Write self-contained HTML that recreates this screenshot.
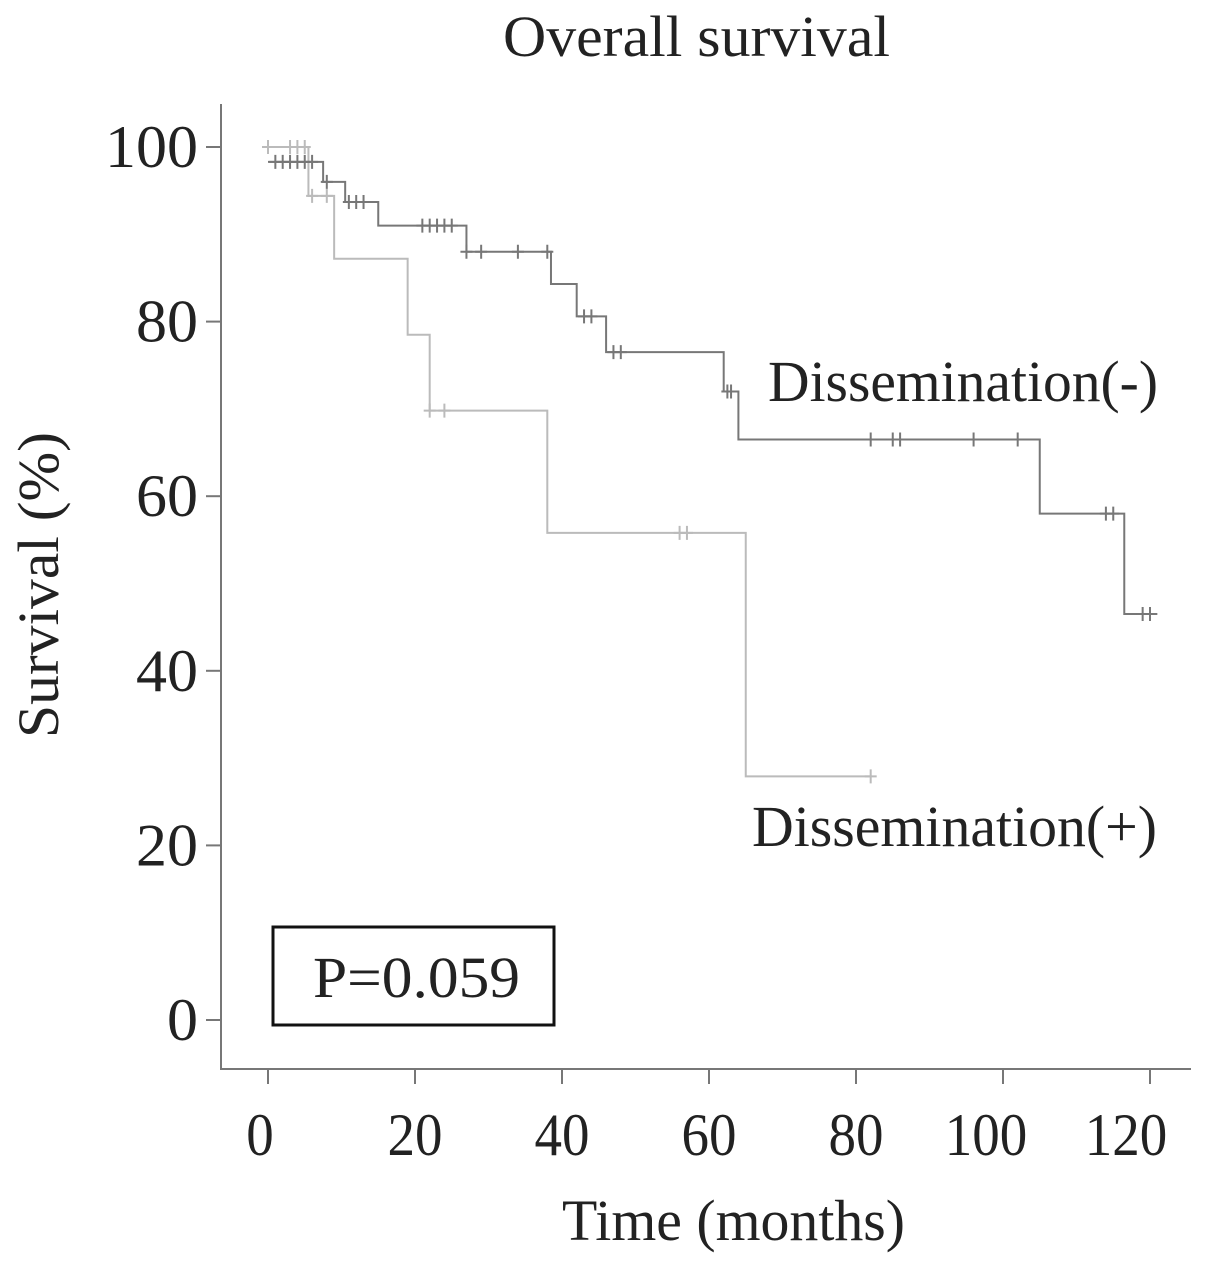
<!DOCTYPE html>
<html><head><meta charset="utf-8"><style>
html,body{margin:0;padding:0;background:#fff}
svg{display:block}
text{font-family:"Liberation Serif",serif;fill:#222}
</style></head><body>
<svg id="chart" width="1205" height="1269">
<text x="503" y="56" font-size="58" textLength="387" lengthAdjust="spacingAndGlyphs">Overall survival</text>
<text x="562" y="1240" font-size="58" textLength="343" lengthAdjust="spacingAndGlyphs">Time (months)</text>
<text transform="translate(58,738) rotate(-90)" font-size="58" textLength="306" lengthAdjust="spacingAndGlyphs">Survival (%)</text>
<line x1="221" y1="104" x2="221" y2="1070" stroke="#777" stroke-width="2"/>
<line x1="220" y1="1069" x2="1191" y2="1069" stroke="#777" stroke-width="2"/>
<g id="ticks"></g>
<g id="series"></g>
<text x="768" y="401" font-size="58" textLength="390" lengthAdjust="spacingAndGlyphs">Dissemination(-)</text>
<text x="752" y="846" font-size="58" textLength="405" lengthAdjust="spacingAndGlyphs">Dissemination(+)</text>
<rect x="273" y="927" width="281" height="98" fill="none" stroke="#111" stroke-width="3"/>
<text x="313" y="997" font-size="58" textLength="207" lengthAdjust="spacingAndGlyphs">P=0.059</text>
</svg>
<script>
const xTicks=[0,20,40,60,80,100,120];
const yTicks=[0,20,40,60,80,100];
const negTimes=[0,7.5,10.5,15,27,38.5,42,46,62,64,105,116.5];
const negSurv=[98.3,96,93.7,91,88,84.3,80.6,76.5,72,66.5,58,46.5];
const negEnd=121;
const negCensor=[1,2,3,4,5,6,8,11,12,13,21,22,23,24,25,27,29,34,38,43,44,47,48,62.5,63,82,85,86,96,102,114,115,119,120];
const posTimes=[0,5.5,9,19,22,38,65];
const posSurv=[100,94.4,87.2,78.5,69.8,55.8,27.9];
const posEnd=82;
const posCensor=[0,3,4,5,6,8,22,24,56,57,82];
const NS='http://www.w3.org/2000/svg';
const X=t=>268+t*7.35;
const Y=v=>1020-v*8.73;
const xLabelShift=[-8,0,0,0,0,-17,-24];
function mk(tag,attrs,parent){const e=document.createElementNS(NS,tag);for(const k in attrs)e.setAttribute(k,attrs[k]);parent.appendChild(e);return e;}
const tg=document.getElementById('ticks');
xTicks.forEach((t,i)=>{
 const l=mk('line',{x1:X(t),x2:X(t),y1:1070,y2:1084,stroke:'#777','stroke-width':2},tg);
 
 
 const s=String(t);
 const w=s.length*27.5;
 const tx=mk('text',{x:X(t)+xLabelShift[i]-w/2,y:1155,'font-size':60,textLength:w,lengthAdjust:'spacingAndGlyphs'},tg);
 tx.textContent=s;
 
 
});
yTicks.forEach(v=>{
 const l=mk('line',{x1:206,x2:221,y1:Y(v),y2:Y(v),stroke:'#777','stroke-width':2},tg);
 
 
 const s=String(v);
 const w=s.length*31;
 const tx=mk('text',{x:198-w,y:Y(v)+20,'font-size':60,textLength:w,lengthAdjust:'spacingAndGlyphs'},tg);
 tx.textContent=s;
 
 
});
function survAt(times,surv,t){let s=surv[0];for(let i=0;i<times.length;i++){if(times[i]<=t)s=surv[i];}return s;}
function draw(times,surv,end,cens,color,name){
 const sg=document.getElementById('series');
 let d='M'+X(times[0])+' '+Y(surv[0]);
 for(let i=1;i<times.length;i++){d+=' H'+X(times[i])+' V'+Y(surv[i]);}
 d+=' H'+X(end);
 const p=mk('path',{d:d,fill:'none',stroke:color,'stroke-width':2},sg);
 
 
 cens.forEach(t=>{
  const y=Y(survAt(times,surv,t));
  const c=mk('path',{d:'M'+X(t)+' '+(y-7)+' V'+(y+7)+' M'+(X(t)-6)+' '+y+' H'+(X(t)+6),stroke:color,'stroke-width':2,fill:'none'},sg);
  
  
 });
}
draw(posTimes,posSurv,posEnd,posCensor,'#bbb','dissemination-positive');
draw(negTimes,negSurv,negEnd,negCensor,'#777','dissemination-negative');
</script>
</body></html>
